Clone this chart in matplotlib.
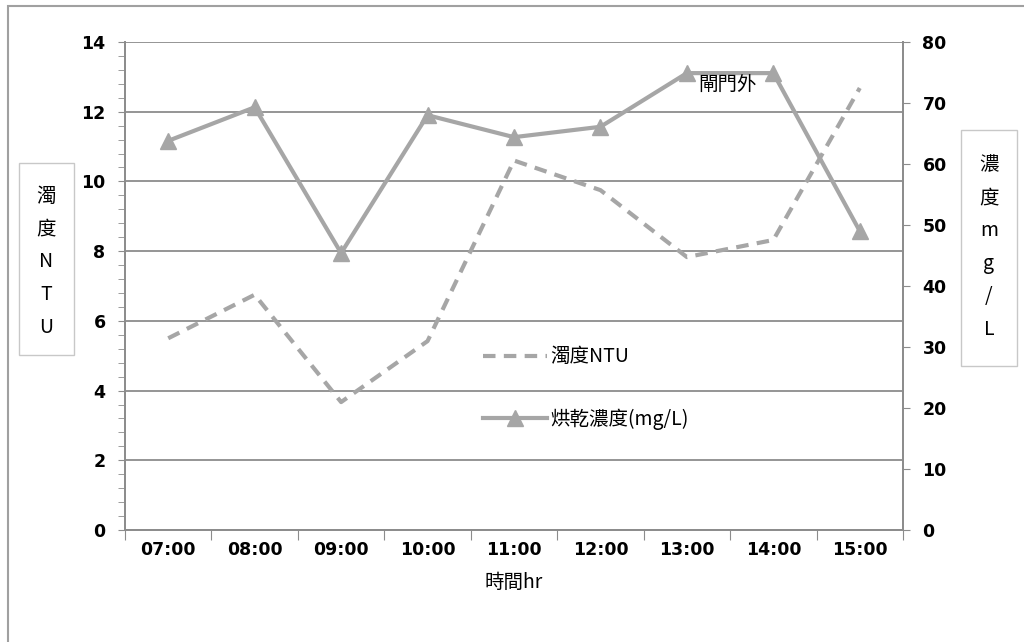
import matplotlib
matplotlib.use("Agg")
from matplotlib import pyplot as plt
from matplotlib.patches import Rectangle

plt.rcParams['font.family'] = ['DejaVu Sans', 'Noto Sans CJK TC']

# data
hours = ["07:00", "08:00", "09:00", "10:00", "11:00", "12:00", "13:00", "14:00", "15:00"]
ntu = [5.5, 6.75, 3.67, 5.42, 10.6, 9.75, 7.83, 8.32, 12.68]
conc = [63.8, 69.3, 45.4, 68.0, 64.4, 66.1, 74.9, 74.9, 49.0]

GRAY = "#a6a6a6"
AXC = "#8c8c8c"
CJK = ['Noto Sans CJK TC', 'DejaVu Sans']


def main() -> None:
    fig = plt.figure(figsize=(10.24, 6.42), dpi=100)
    W, H = 1024, 642
    # plot area in pixels: x 125..903, y 42..530
    ax = fig.add_axes([125 / W, 1 - 530 / H, (903 - 125) / W, (530 - 42) / H])
    ax2 = ax.twinx()

    x = list(range(len(hours)))
    ax.plot(x, ntu, color=GRAY, lw=3, ls=(0, (3, 2)), label="濁度NTU")
    ax2.plot(x, conc, color=GRAY, lw=3, marker="^", ms=12, label="烘乾濃度(mg/L)")

    ax.set_xlim(-0.5, len(hours) - 0.5)
    ax.set_ylim(0, 14)
    ax2.set_ylim(0, 80)

    # left axis
    ax.set_yticks(range(0, 15, 2))
    ax.set_yticks([i * 0.4 for i in range(36)], minor=True)
    ax.yaxis.grid(True, which="major", color=AXC, lw=1.3)
    ax.set_axisbelow(True)
    ax.tick_params(axis="y", which="both", direction="out", length=5, color=AXC,
                   labelsize=12.5, pad=9)
    for lab in ax.get_yticklabels():
        lab.set_fontweight("bold")

    # x axis: ticks at category boundaries, labels at centers
    ax.set_xticks([i - 0.5 for i in range(len(hours) + 1)])
    ax.set_xticklabels([])
    ax.set_xticks(x, minor=True)
    ax.set_xticklabels(hours, minor=True, fontweight="bold", fontsize=12.5)
    ax.tick_params(axis="x", which="major", length=7, color=AXC, direction="out")
    ax.tick_params(axis="x", which="minor", length=0, pad=8)

    # right axis
    ax2.set_yticks(range(0, 81, 10))
    ax2.tick_params(axis="y", direction="out", length=5, color=AXC, labelsize=12.5, pad=9)
    for lab in ax2.get_yticklabels():
        lab.set_fontweight("bold")

    for a in (ax, ax2):
        a.spines["top"].set_visible(False)
        for side in ("left", "right", "bottom"):
            a.spines[side].set_color(AXC)
            a.spines[side].set_linewidth(1.3)

    ax.set_xlabel("時間hr", family=CJK, fontsize=14, labelpad=9)

    # axis title boxes
    fig.patches.append(Rectangle((19 / W, 1 - 355 / H), 55 / W, 192 / H, transform=fig.transFigure,
                                 fill=False, ec="#c8c8c8", lw=1))
    fig.text(46 / W, 1 - 262 / H, "濁\n度\nN\nT\nU", family=CJK, fontsize=14, ha="center",
             va="center", linespacing=1.75)
    fig.patches.append(Rectangle((961 / W, 1 - 366 / H), 56 / W, 236 / H, transform=fig.transFigure,
                                 fill=False, ec="#c8c8c8", lw=1))
    fig.text(989 / W, 1 - 247 / H, "濃\n度\nm\ng\n/\nL", family=CJK, fontsize=14, ha="center",
             va="center", linespacing=1.75)

    # outer chart frame (only top and left edges are inside the image)
    fig.patches.append(Rectangle((8 / W, -0.1), 1.2, 1 - 6 / H + 0.1, transform=fig.transFigure,
                                 fill=False, ec="#a0a0a0", lw=1.5))

    fig.text(728 / W, 1 - 84 / H, "閘門外", family=CJK, fontsize=14, ha="center", va="center")

    h1, l1 = ax.get_legend_handles_labels()
    h2, l2 = ax2.get_legend_handles_labels()
    ax2.legend(h1 + h2, l1 + l2, loc="center left", bbox_to_anchor=(465 / W, 1 - 388 / H),
               bbox_transform=fig.transFigure, frameon=False, prop={"family": CJK, "size": 14},
               labelspacing=2.1, handlelength=3.3, handletextpad=0.2)

    fig.savefig("out.png", dpi=100)


if __name__ == "__main__":
    main()
